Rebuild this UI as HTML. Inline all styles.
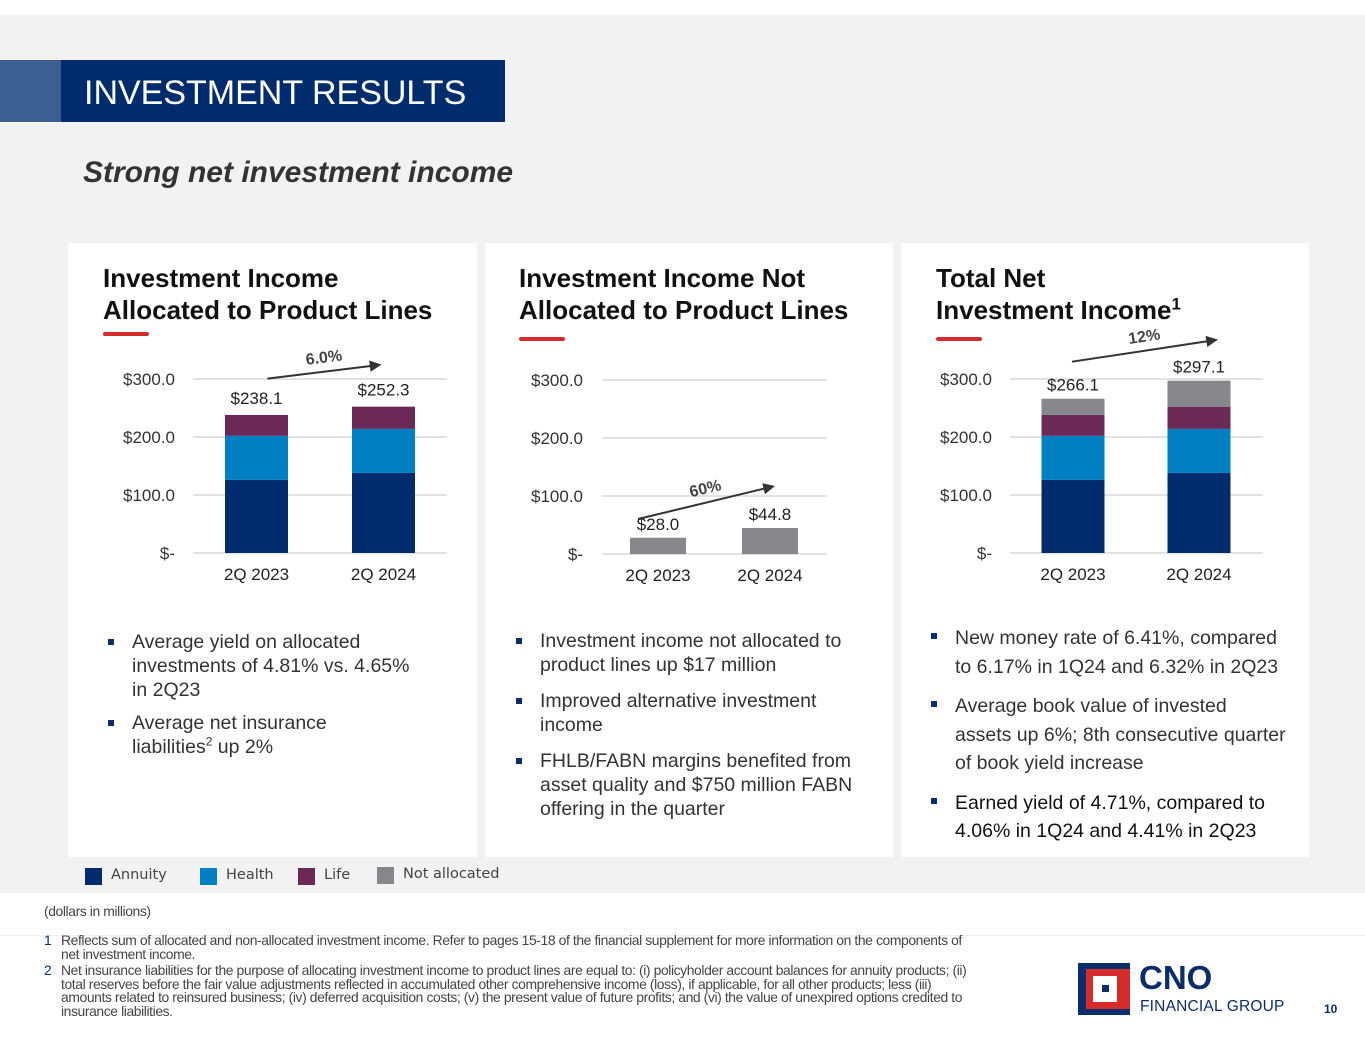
<!DOCTYPE html>
<html><head><meta charset="utf-8">
<style>
body{margin:0;width:1365px;height:1055px;position:relative;background:#fff;font-family:"Liberation Sans",Arial,sans-serif;overflow:hidden}
.abs{position:absolute}
.panel{position:absolute;top:243px;height:614px;background:#fff}
.ptitle{position:absolute;font-weight:bold;font-size:26px;line-height:32px;color:#111}
.red{position:absolute;width:46px;height:4px;background:#d52b2b;border-radius:2px}
ul{list-style:none;margin:0;padding:0;position:absolute;color:#333;font-size:19.5px}
li{position:relative;padding-left:28px}
li:before{content:"";position:absolute;left:4px;top:9px;width:6px;height:6px;background:#0b2d6b}
.fn{font-size:13.9px;color:#444;letter-spacing:-0.4px;line-height:13.5px}
</style></head><body>
<div class="abs" style="left:0;top:15px;width:1365px;height:878px;background:#f2f2f2"></div>
<div class="abs" style="left:0;top:60px;width:61px;height:62px;background:#3d5e93"></div>
<div class="abs" style="left:61px;top:60px;width:444px;height:62px;background:#002c6e;color:#fff;font-size:34px;line-height:66px;padding-left:23px;box-sizing:border-box">INVESTMENT RESULTS</div>
<div class="abs" style="left:83px;top:156px;font-size:30px;font-weight:bold;font-style:italic;color:#333">Strong net investment income</div>

<div class="panel" style="left:68px;width:409px"></div>
<div class="panel" style="left:485px;width:408px"></div>
<div class="panel" style="left:901px;width:408px"></div>

<div class="ptitle" style="left:103px;top:262px">Investment Income<br>Allocated to Product Lines</div>
<div class="ptitle" style="left:519px;top:262px">Investment Income Not<br>Allocated to Product Lines</div>
<div class="ptitle" style="left:936px;top:262px">Total Net<br>Investment Income<sup style="font-size:17px;line-height:0">1</sup></div>
<div class="red" style="left:103px;top:332px"></div>
<div class="red" style="left:519px;top:337px"></div>
<div class="red" style="left:936px;top:337px"></div>

<svg id="charts" class="abs" style="left:0;top:0" width="1365" height="1055"></svg>

<ul style="left:104px;top:630px;width:315px;line-height:24px">
<li style="margin-bottom:9px">Average yield on allocated investments of 4.81% vs. 4.65% in 2Q23</li>
<li>Average net insurance<br>liabilities<sup style="font-size:12px;line-height:0">2</sup> up 2%</li></ul>
<ul style="left:512px;top:629px;width:350px;line-height:24px">
<li style="margin-bottom:12px">Investment income not allocated to product lines up $17 million</li>
<li style="margin-bottom:12px">Improved alternative investment income</li>
<li>FHLB/FABN margins benefited from asset quality and $750 million FABN offering in the quarter</li></ul>
<ul style="left:927px;top:624px;width:360px;line-height:28.5px">
<li style="margin-bottom:11px">New money rate of 6.41%, compared to 6.17% in 1Q24 and 6.32% in 2Q23</li>
<li style="margin-bottom:11px">Average book value of invested assets up 6%; 8th consecutive quarter of book yield increase</li>
<li style="color:#111">Earned yield of 4.71%, compared to 4.06% in 1Q24 and 4.41% in 2Q23</li></ul>

<div class="abs" style="left:85px;top:867px;font-family:'DejaVu Sans',sans-serif;font-size:14.5px;color:#444;height:20px;width:440px">
<span class="abs" style="left:0;top:1px;width:17px;height:17px;background:#002c6e"></span><span class="abs" style="left:26px;top:0">Annuity</span>
<span class="abs" style="left:115px;top:1px;width:17px;height:17px;background:#0080c3"></span><span class="abs" style="left:141px;top:0">Health</span>
<span class="abs" style="left:213px;top:1px;width:17px;height:17px;background:#6b2957"></span><span class="abs" style="left:239px;top:0">Life</span>
<span class="abs" style="left:292px;top:0;width:17px;height:17px;background:#87878b"></span><span class="abs" style="left:318px;top:-1px">Not allocated</span>
</div>

<div class="abs fn" style="left:44px;top:905px">(dollars in millions)</div>
<div class="abs" style="left:0;top:935px;width:1365px;height:1px;background:#eee"></div>
<div class="abs fn" style="left:44px;top:934px;width:930px"><span style="color:#0b2d6b;position:absolute;left:0">1</span><div style="margin-left:17px">Reflects sum of allocated and non-allocated investment income. Refer to pages 15-18 of the financial supplement for more information on the components of net investment income.</div></div>
<div class="abs fn" style="left:44px;top:964px;width:930px"><span style="color:#0b2d6b;position:absolute;left:0">2</span><div style="margin-left:17px">Net insurance liabilities for the purpose of allocating investment income to product lines are equal to: (i) policyholder account balances for annuity products; (ii) total reserves before the fair value adjustments reflected in accumulated other comprehensive income (loss), if applicable, for all other products; less (iii) amounts related to reinsured business; (iv) deferred acquisition costs; (v) the present value of future profits; and (vi) the value of unexpired options credited to insurance liabilities.</div></div>

<div class="abs" style="left:1078px;top:963px;width:210px;height:52px">
<div class="abs" style="left:0;top:0;width:52px;height:52px;background:#0b2d6b"></div>
<div class="abs" style="left:8px;top:6px;width:44px;height:40px;background:#d52b2b"></div>
<div class="abs" style="left:15px;top:13px;width:24px;height:26px;background:#fff"></div>
<div class="abs" style="left:24px;top:22px;width:7px;height:7px;background:#0b2d6b"></div>
<div class="abs" style="left:61px;top:-4px;font-size:33px;font-weight:bold;color:#0b2d6b">CNO</div>
<div class="abs" style="left:62px;top:35px;font-size:15.5px;color:#0b2d6b;letter-spacing:0.2px">FINANCIAL GROUP</div>
</div>
<div class="abs" style="left:1324px;top:1002px;font-size:12px;font-weight:bold;color:#0b2d6b">10</div>

<script>
const categories = ["2Q 2023", "2Q 2024"];
const annuity = [126, 138];
const health = [76, 76];
const life = [36, 38.3];
const notAllocated = [28.0, 44.8];
const allocatedTotals = ["$238.1", "$252.3"];
const notAllocTotals = ["$28.0", "$44.8"];
const netTotals = ["$266.1", "$297.1"];
const yTicks = [0, 100, 200, 300];
const yTickLabels = ["$-", "$100.0", "$200.0", "$300.0"];
const growthLabels = ["6.0%", "60%", "12%"];
const colors = {annuity:"#002c6e", health:"#0080c3", life:"#6b2957", na:"#87878b"};

const svg = document.getElementById('charts');
const NS = "http://www.w3.org/2000/svg";
function mk(tag, attrs, parent){
  const e = document.createElementNS(NS, tag);
  for (const k in attrs) e.setAttribute(k, attrs[k]);
  (parent||svg).appendChild(e); return e;
}
function txt(x,y,s,opts,name){
  const t = mk('text', Object.assign({x:x,y:y,'font-size':17,fill:'#222','font-family':'Liberation Sans, Arial, sans-serif'}, opts||{}));
  t.textContent = s;
  
  
  return t;
}
function drawChart(cfg){
  const y = v => cfg.y0 - v * (cfg.y0 - cfg.y300) / 300;
  const xc = i => cfg.x0 + cfg.band * (i + 0.5);
  const g = mk('g', {});
  
  
  yTicks.forEach((t,i)=>{
    const l = mk('line',{x1:cfg.x0,x2:cfg.x1,y1:y(t),y2:y(t),stroke:'#d9d9d9','stroke-width':1.5},g);
    
    
    txt(cfg.labelX, y(t)+6, yTickLabels[i], {'text-anchor':'end',fill:'#333'}, 'y-tick-label');
  });
  const tops = [];
  categories.forEach((c,i)=>{
    let base = 0;
    cfg.series.forEach(s=>{
      const v = s.vals[i];
      const r = mk('rect',{x:xc(i)-cfg.bw/2,width:cfg.bw,y:y(base+v),height:y(base)-y(base+v),fill:s.color},g);
      
      
      base += v;
    });
    tops.push(y(base));
    txt(xc(i), cfg.y0+27, c, {'text-anchor':'middle'}, 'x-tick-label');
    txt(xc(i), y(base)-cfg.lblOff, cfg.totals[i], {'text-anchor':'middle'}, 'total-label');
  });
  const ax1 = xc(0) + cfg.arrow[0], ax2 = xc(1) + cfg.arrow[1];
  const ay1 = Math.min(tops[0], tops[1]) + cfg.arrow[2], ay2 = ay1 - cfg.arrow[3];
  const ang = Math.atan2(ay2-ay1, ax2-ax1);
  const ln = mk('line',{x1:ax1,y1:ay1,x2:ax2-10*Math.cos(ang),y2:ay2-10*Math.sin(ang),stroke:'#333','stroke-width':2},g);
  
  
  const p = (d,a)=>[ax2 - d*Math.cos(ang+a), ay2 - d*Math.sin(ang+a)];
  const a1=p(13,0.45), a2=p(13,-0.45);
  const hd = mk('polygon',{points:`${ax2},${ay2} ${a1} ${a2}`,fill:'#333'},g);
  
  
  const mx=(ax1+ax2)/2, my=(ay1+ay2)/2-9;
  txt(mx, my, cfg.growth, {'text-anchor':'middle','font-weight':'bold',fill:'#444','font-size':16,transform:`rotate(${ang*180/Math.PI} ${mx} ${my})`}, 'growth-label');
}
drawChart({name:'chart-allocated', x0:193, x1:447, band:127, y0:553, y300:379, labelX:175, bw:63, lblOff:11, totals:allocatedTotals, growth:growthLabels[0],
  arrow:[11,-2,-28,14],
  series:[{key:'annuity',vals:annuity,color:colors.annuity},{key:'health',vals:health,color:colors.health},{key:'life',vals:life,color:colors.life}]});
drawChart({name:'chart-not-allocated', x0:602, x1:827, band:112, y0:554, y300:380, labelX:583, bw:56, lblOff:8, totals:notAllocTotals, growth:growthLabels[1],
  arrow:[-20,5,-9,33],
  series:[{key:'not-allocated',vals:notAllocated,color:colors.na}]});
drawChart({name:'chart-total', x0:1010, x1:1263, band:126, y0:553, y300:379, labelX:992, bw:63, lblOff:8, totals:netTotals, growth:growthLabels[2],
  arrow:[-1,19,-19,22],
  series:[{key:'annuity',vals:annuity,color:colors.annuity},{key:'health',vals:health,color:colors.health},{key:'life',vals:life,color:colors.life},{key:'not-allocated',vals:notAllocated,color:colors.na}]});
</script>
</body></html>
